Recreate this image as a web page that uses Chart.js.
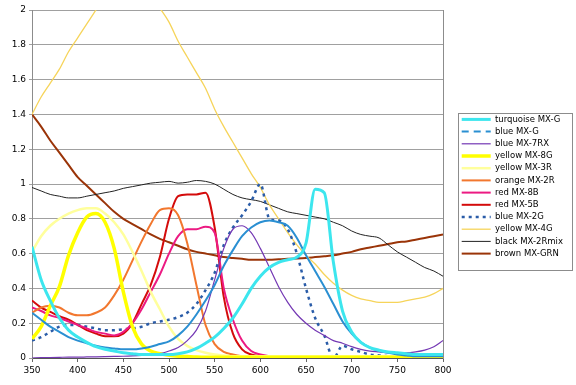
<!DOCTYPE html>
<html>
<head>
<meta charset="utf-8">
<script src="https://cdn.jsdelivr.net/npm/chart.js@4"></script>
<style>
  html, body { margin: 0; padding: 0; background: #ffffff; }
  #wrap { width: 576px; height: 385px; }
</style>
</head>
<body>
<div id="wrap"><canvas id="dyeChart" width="576" height="385"></canvas></div>
<script>
// wavelength (nm), one sample every 10 nm
const wavelengths = [350, 360, 370, 380, 390, 400, 410, 420, 430, 440,
    450, 460, 470, 480, 490, 500, 510, 520, 530, 540,
    550, 560, 570, 580, 590, 600, 610, 620, 630, 640,
    650, 660, 670, 680, 690, 700, 710, 720, 730, 740,
    750, 760, 770, 780, 790, 800];

const xTicks = [350, 400, 450, 500, 550, 600, 650, 700, 750, 800];
const yTicks = [0, 0.2, 0.4, 0.6, 0.8, 1, 1.2, 1.4, 1.6, 1.8, 2];

const seriesNames = ['turquoise MX-G', 'blue MX-G', 'blue MX-7RX', 'yellow MX-8G', 'yellow MX-3R',
    'orange MX-2R', 'red MX-8B', 'red MX-5B', 'blue MX-2G', 'yellow MX-4G', 'black MX-2Rmix', 'brown MX-GRN'];

const turquoiseMXG = [0.64, 0.45, 0.33, 0.23, 0.16, 0.12, 0.09, 0.065, 0.05, 0.04,
    0.03, 0.025, 0.02, 0.02, 0.02, 0.02, 0.025, 0.035, 0.055, 0.085,
    0.12, 0.17, 0.23, 0.31, 0.4, 0.47, 0.52, 0.55, 0.565, 0.58,
    0.66, 0.97, 0.95, 0.55, 0.27, 0.15, 0.09, 0.06, 0.045, 0.035,
    0.03, 0.025, 0.02, 0.02, 0.02, 0.02];

const blueMXG = [0.26, 0.22, 0.18, 0.15, 0.12, 0.1, 0.085, 0.07, 0.06, 0.055,
    0.05, 0.05, 0.055, 0.065, 0.08, 0.095, 0.13, 0.18, 0.25, 0.33,
    0.42, 0.53, 0.62, 0.7, 0.75, 0.78, 0.79, 0.78, 0.76, 0.69,
    0.59, 0.5, 0.41, 0.31, 0.21, 0.14, 0.09, 0.06, 0.04, 0.03,
    0.02, 0.015, 0.01, 0.01, 0.01, 0.01];

const blueMX7RX = [0, 0.002, 0.003, 0.004, 0.005, 0.005, 0.006, 0.007, 0.008, 0.009,
    0.01, 0.012, 0.015, 0.02, 0.025, 0.04, 0.06, 0.1, 0.16, 0.27,
    0.45, 0.63, 0.74, 0.76, 0.72, 0.63, 0.52, 0.41, 0.32, 0.25,
    0.2, 0.16, 0.13, 0.1, 0.085, 0.065, 0.05, 0.04, 0.035, 0.03,
    0.03, 0.03, 0.035, 0.045, 0.065, 0.1];

const yellowMX8G = [0.11, 0.18, 0.3, 0.41, 0.59, 0.72, 0.81, 0.83, 0.78, 0.63,
    0.38, 0.18, 0.08, 0.04, 0.025, 0.015, 0.01, 0.008, 0.006, 0.005,
    0.005, 0.005, 0.005, 0.005, 0.005, 0.005, 0.005, 0.005, 0.005, 0.005,
    0.005, 0.005, 0.005, 0.005, 0.005, 0.005, 0.005, 0.005, 0.005, 0.005,
    0.005, 0.005, 0.005, 0.005, 0.005, 0.005];

const yellowMX3R = [0.61, 0.7, 0.76, 0.8, 0.83, 0.85, 0.86, 0.86, 0.83, 0.78,
    0.71, 0.61, 0.5, 0.38, 0.28, 0.18, 0.11, 0.07, 0.045, 0.03,
    0.02, 0.015, 0.01, 0.01, 0.01, 0.01, 0.01, 0.01, 0.01, 0.01,
    0.01, 0.01, 0.01, 0.01, 0.01, 0.01, 0.01, 0.01, 0.01, 0.01,
    0.01, 0.01, 0.01, 0.01, 0.01, 0.01];

const orangeMX2R = [0.26, 0.29, 0.3, 0.29, 0.26, 0.245, 0.245, 0.26, 0.29, 0.36,
    0.45, 0.56, 0.67, 0.77, 0.85, 0.86, 0.82, 0.66, 0.42, 0.19,
    0.08, 0.035, 0.02, 0.01, 0.005, 0, 0, 0, 0, 0,
    0, 0, 0, 0, 0, 0, 0, 0, 0, 0,
    0, 0, 0, 0, 0, 0];

const redMX8B = [0.29, 0.27, 0.245, 0.23, 0.21, 0.19, 0.17, 0.15, 0.14, 0.13,
    0.15, 0.2, 0.28, 0.38, 0.48, 0.6, 0.7, 0.74, 0.74, 0.755,
    0.72, 0.4, 0.22, 0.1, 0.04, 0.02, 0.01, 0.005, 0, 0,
    0, 0, 0, 0, 0, 0, 0, 0, 0, 0,
    0, 0, 0, 0, 0, 0];

const redMX5B = [0.33, 0.29, 0.265, 0.24, 0.22, 0.19, 0.16, 0.14, 0.125, 0.125,
    0.14, 0.2, 0.31, 0.42, 0.58, 0.8, 0.93, 0.94, 0.94, 0.95,
    0.75, 0.35, 0.14, 0.05, 0.02, 0.01, 0.005, 0, 0, 0,
    0, 0, 0, 0, 0, 0, 0, 0, 0, 0,
    0, 0, 0, 0, 0, 0];

const blueMX2G = [0.1, 0.12, 0.15, 0.18, 0.19, 0.19, 0.18, 0.17, 0.16, 0.16,
    0.165, 0.17, 0.18, 0.2, 0.21, 0.22, 0.235, 0.26, 0.31, 0.39,
    0.49, 0.65, 0.75, 0.82, 0.9, 1.0, 0.8, 0.79, 0.74, 0.6,
    0.4, 0.23, 0.13, 0.0, 0.07, 0.05, 0.035, 0.02, 0.015, 0.01,
    0.005, 0, 0, 0, 0, 0];

const yellowMX4G = [1.4, 1.5, 1.58, 1.66, 1.76, 1.84, 1.92, 2.0, 2.08, 2.15,
    2.2, 2.2, 2.15, 2.08, 2.01, 1.93, 1.82, 1.73, 1.64, 1.55,
    1.43, 1.33, 1.24, 1.15, 1.06, 0.98, 0.88, 0.8, 0.72, 0.65,
    0.59, 0.54, 0.48, 0.43, 0.39, 0.36, 0.34, 0.33, 0.32, 0.32,
    0.32, 0.33, 0.34, 0.35, 0.37, 0.4];

const blackMX2Rmix = [0.98, 0.96, 0.94, 0.93, 0.92, 0.92, 0.93, 0.94, 0.95, 0.96,
    0.975, 0.985, 0.995, 1.005, 1.01, 1.015, 1.005, 1.01, 1.02, 1.015,
    1.0, 0.97, 0.94, 0.92, 0.91, 0.9, 0.88, 0.86, 0.84, 0.83,
    0.82, 0.81, 0.8, 0.78, 0.76, 0.73, 0.71, 0.7, 0.69, 0.65,
    0.61, 0.58, 0.55, 0.52, 0.5, 0.47];

const brownMXGRN = [1.4, 1.33, 1.25, 1.18, 1.11, 1.04, 0.99, 0.94, 0.89, 0.84,
    0.8, 0.77, 0.74, 0.71, 0.685, 0.665, 0.645, 0.625, 0.61, 0.6,
    0.59, 0.58, 0.575, 0.57, 0.565, 0.565, 0.565, 0.568, 0.57, 0.572,
    0.575, 0.58, 0.585, 0.59, 0.6, 0.61, 0.625, 0.635, 0.645, 0.655,
    0.665, 0.67, 0.68, 0.69, 0.7, 0.71];

const FONT = "'DejaVu Sans', Verdana, sans-serif";

function line(label, data, color, width, dash) {
    return {
        label: label,
        data: data,
        borderColor: color,
        backgroundColor: color,
        borderWidth: width,
        borderDash: dash || [],
        pointRadius: 0,
        pointHoverRadius: 0,
        fill: false,
        cubicInterpolationMode: 'monotone'
    };
}

// legend sits a little above centre, with a box round it
const framePlugin = {
    id: 'frame',
    afterLayout(chart) {
        const lg = chart.legend;
        if (!lg) return;
        lg.top -= 11;
        lg.bottom -= 11;
    },
    afterDraw(chart) {
        const lg = chart.legend;
        if (!lg || !lg.legendHitBoxes.length) return;
        const ctx = chart.ctx;
        const boxes = lg.legendHitBoxes;
        const first = boxes[0];
        const last = boxes[boxes.length - 1];
        ctx.save();
        ctx.strokeStyle = '#8c8c8c';
        ctx.lineWidth = 1;
        ctx.strokeRect(Math.round(first.left - 4) + 0.5, Math.round(first.top - 2) + 0.5,
            Math.round(lg.right - first.left + 3), Math.round(last.top + last.height - first.top + 14));
        ctx.restore();
    }
};

const ctx = document.getElementById('dyeChart').getContext('2d');

new Chart(ctx, {
    type: 'line',
    data: {
        labels: wavelengths,
        datasets: [
            line(seriesNames[0], turquoiseMXG, '#3ce6ee', 3),
            line(seriesNames[1], blueMXG, '#2a8fd2', 2),
            line(seriesNames[2], blueMX7RX, '#7438b4', 1.2),
            line(seriesNames[3], yellowMX8G, '#ffff00', 3.5),
            line(seriesNames[4], yellowMX3R, '#ffff9c', 2.5),
            line(seriesNames[5], orangeMX2R, '#f2772e', 2),
            line(seriesNames[6], redMX8B, '#ec1a82', 2),
            line(seriesNames[7], redMX5B, '#d40b0b', 2),
            line(seriesNames[8], blueMX2G, '#2a5ca8', 2.5, [3, 4]),
            line(seriesNames[9], yellowMX4G, '#f6d45a', 1.3),
            line(seriesNames[10], blackMX2Rmix, '#222222', 1),
            line(seriesNames[11], brownMXGRN, '#9a3408', 2)
        ]
    },
    options: {
        responsive: false,
        animation: false,
        devicePixelRatio: 1,
        layout: { padding: { left: 0, right: 3, top: 10, bottom: 0 } },
        plugins: {
            legend: {
                position: 'right',
                maxWidth: 150,
                labels: {
                    font: { family: FONT, size: 8.5 },
                    color: '#000000',
                    usePointStyle: true,
                    pointStyle: 'line',
                    pointStyleWidth: 29,
                    padding: 3.7,
                    generateLabels(chart) {
                        const items = Chart.defaults.plugins.legend.labels.generateLabels(chart);
                        items.forEach(it => {
                            const ds = chart.data.datasets[it.datasetIndex];
                            it.pointStyle = 'line';
                            it.lineWidth = ds.borderWidth;
                            it.lineDash = ds.borderDash;
                        });
                        // the legend shows blue MX-G with long dashes
                        items[1].lineDash = [7, 5];
                        return items;
                    }
                }
            },
            tooltip: { enabled: false }
        },
        scales: {
            x: {
                type: 'linear',
                min: 350,
                max: 800,
                afterBuildTicks(scale) { scale.ticks = xTicks.map(v => ({ value: v })); },
                afterFit(scale) { scale.height = 27; },
                ticks: { font: { family: FONT, size: 9 }, color: '#000000', padding: 3, maxRotation: 0 },
                grid: { drawOnChartArea: false, tickLength: 4, color: '#666666' },
                border: { color: '#555555' }
            },
            y: {
                min: 0,
                max: 2,
                afterBuildTicks(scale) { scale.ticks = yTicks.map(v => ({ value: v })); },
                afterFit(scale) { scale.width = 32; },
                ticks: {
                    font: { family: FONT, size: 9 },
                    color: '#000000',
                    padding: 3,
                    callback: v => String(Number(v.toFixed(1)))
                },
                grid: { color: '#a0a0a0', tickLength: 3 },
                border: { color: '#8c8c8c' }
            },
            // empty axis on the right: closes the plot frame and leaves a gap before the legend
            gap: {
                type: 'linear',
                position: 'right',
                min: 0,
                max: 2,
                ticks: { display: false },
                grid: { display: false },
                border: { color: '#8c8c8c' },
                afterFit(scale) { scale.width = 15; }
            }
        }
    },
    plugins: [framePlugin]
});
</script>
</body>
</html>
